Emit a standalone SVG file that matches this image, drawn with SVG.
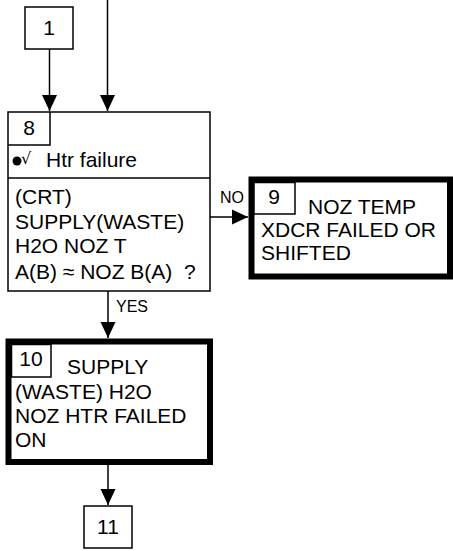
<svg xmlns="http://www.w3.org/2000/svg" width="453" height="551" viewBox="0 0 453 551">
<defs>
<marker id="arr" markerWidth="16" markerHeight="16" viewBox="0 0 16 16" refX="16" refY="8" orient="auto" markerUnits="userSpaceOnUse">
<path d="M0,0.5 L16,8 L0,15.5 Z" fill="#000"/>
</marker>
<style>
.t{font-family:"Liberation Sans",Arial,sans-serif;font-size:21px;fill:#000}
.s{font-family:"Liberation Sans",Arial,sans-serif;font-size:16px;fill:#000}
.box{fill:#fff;stroke:#000;stroke-width:1.5}
.thick{fill:#fff;stroke:#000;stroke-width:6}
.ln{fill:none;stroke:#000;stroke-width:1.5}
.c{stroke:#000;stroke-width:1.5;fill:none;marker-end:url(#arr)}
</style>
</defs>
<g id="connectors">
<path class="c" d="M49.5,49 V111"/>
<path class="c" d="M107.5,0 V111"/>
<path class="c" d="M210,217 H248"/>
<path class="c" d="M108,291 V338"/>
<path class="c" d="M108,465 V505"/>
<text class="s" x="220" y="203">NO</text>
<text class="s" x="116" y="312">YES</text>
</g>
<g id="node1">
<rect class="box" x="25" y="7" width="48" height="42"/>
<text class="t" x="49" y="35" text-anchor="middle">1</text>
</g>
<g id="node8">
<rect class="box" x="8" y="112" width="202" height="179"/>
<path class="ln" d="M8,145 H50 V112"/>
<path class="ln" d="M8,178 H210"/>
<text class="t" x="29" y="135" text-anchor="middle">8</text>
<circle cx="17" cy="161" r="4.5" fill="#000"/>
<text x="21" y="164" font-family="DejaVu Sans,sans-serif" font-size="16" fill="#000">√</text>
<text class="t" x="46" y="167">Htr failure</text>
<text class="t" x="15" y="204">(CRT)</text>
<text class="t" x="15" y="229">SUPPLY(WASTE)</text>
<text class="t" x="15" y="253">H2O NOZ T</text>
<text class="t" x="15" y="279" xml:space="preserve">A(B) ≈ NOZ B(A)  ?</text>
</g>
<g id="node9">
<rect class="thick" x="251.5" y="179.5" width="198.5" height="97"/>
<rect class="box" x="254" y="182.5" width="41" height="31.5"/>
<text class="t" x="274" y="204" text-anchor="middle">9</text>
<text class="t" x="308" y="214">NOZ TEMP</text>
<text class="t" x="261" y="237">XDCR FAILED OR</text>
<text class="t" x="261" y="260">SHIFTED</text>
</g>
<g id="node10">
<rect class="thick" x="8.5" y="341.5" width="201.5" height="120.5"/>
<rect class="box" x="11.5" y="344.5" width="39.5" height="32.5"/>
<text class="t" x="31" y="366" text-anchor="middle">10</text>
<text class="t" x="67" y="374">SUPPLY</text>
<text class="t" x="15" y="399">(WASTE) H2O</text>
<text class="t" x="15" y="423">NOZ HTR FAILED</text>
<text class="t" x="15" y="447">ON</text>
</g>
<g id="node11">
<rect class="box" x="84" y="506" width="48" height="42"/>
<text class="t" x="108" y="534" text-anchor="middle">11</text>
</g>
</svg>
